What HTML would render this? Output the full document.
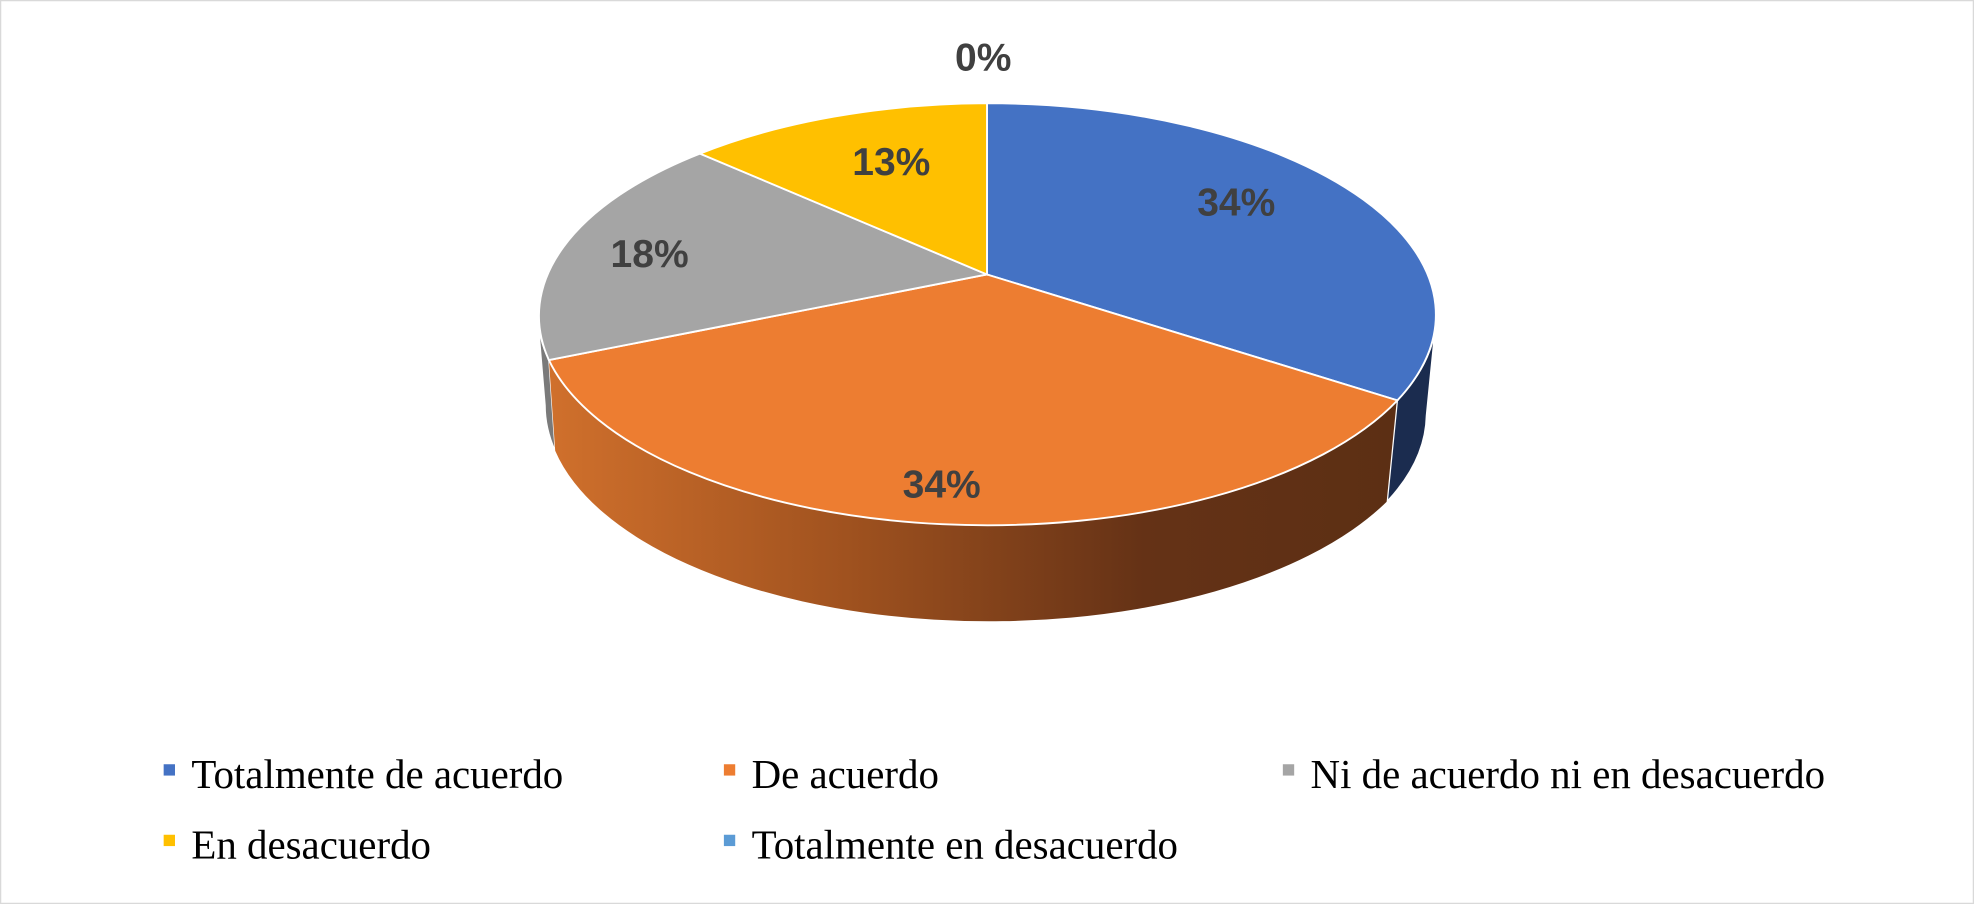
<!DOCTYPE html>
<html><head><style>html,body{margin:0;padding:0;background:#fff}svg{display:block}</style></head>
<body>
<svg width="1974" height="904" viewBox="0 0 1568 718" preserveAspectRatio="none" xmlns="http://www.w3.org/2000/svg">
<defs>
<linearGradient id="og" x1="436" y1="0" x2="1110" y2="0" gradientUnits="userSpaceOnUse">
<stop offset="0" stop-color="#d0702c"/><stop offset="0.35" stop-color="#a0521f"/><stop offset="0.7" stop-color="#653216"/><stop offset="1" stop-color="#5c2f14"/></linearGradient>
</defs>
<rect x="0.5" y="0.5" width="1567" height="717" fill="#fff" stroke="#d9d9d9" stroke-width="1"/>
<!-- sides -->
<path d="M427,250 A357,168 0 0 0 436,286 L441,358 A352,170 0 0 1 433,322 Z" fill="#7a7a7a" stroke="#fff" stroke-width="1"/>
<path d="M436,286 A357,168 0 0 0 1110,318 L1102,398 A352,170 0 0 1 441,358 Z" fill="url(#og)"/>
<path d="M1141,250 A357,168 0 0 1 1110,318 L1102,398 A352,170 0 0 0 1133,330 Z" fill="#1b2c4f" stroke="#fff" stroke-width="1"/>
<!-- top -->
<path d="M784,218 L784,82 A357,168 0 0 1 1110,318 Z" fill="#4472c4" stroke="#fff" stroke-width="1.5"/>
<path d="M784,218 L1110,318 A357,168 0 0 1 436,286 Z" fill="#ed7d31" stroke="#fff" stroke-width="1.5"/>
<path d="M784,218 L436,286 A357,168 0 0 1 556,122 Z" fill="#a5a5a5" stroke="#fff" stroke-width="1.5"/>
<path d="M784,218 L556,122 A357,168 0 0 1 784,82 Z" fill="#ffc000" stroke="#fff" stroke-width="1.5"/>
<g font-family="Liberation Sans, sans-serif" font-weight="bold" font-size="31" fill="#404040" text-anchor="middle">
<text x="781" y="56">0%</text>
<text x="708" y="139">13%</text>
<text x="982" y="171">34%</text>
<text x="516" y="212">18%</text>
<text x="748" y="395">34%</text>
</g>
<g font-family="Liberation Serif, serif" font-size="32.5" fill="#000">
<rect x="130" y="607" width="9" height="9" fill="#4472c4"/><text x="152" y="626">Totalmente de acuerdo</text>
<rect x="575" y="607" width="9" height="9" fill="#ed7d31"/><text x="597" y="626">De acuerdo</text>
<rect x="1019" y="607" width="9" height="9" fill="#a5a5a5"/><text x="1041" y="626">Ni de acuerdo ni en desacuerdo</text>
<rect x="130" y="663" width="9" height="9" fill="#ffc000"/><text x="152" y="682">En desacuerdo</text>
<rect x="575" y="663" width="9" height="9" fill="#5b9bd5"/><text x="597" y="682">Totalmente en desacuerdo</text>
</g>
</svg>
</body></html>
